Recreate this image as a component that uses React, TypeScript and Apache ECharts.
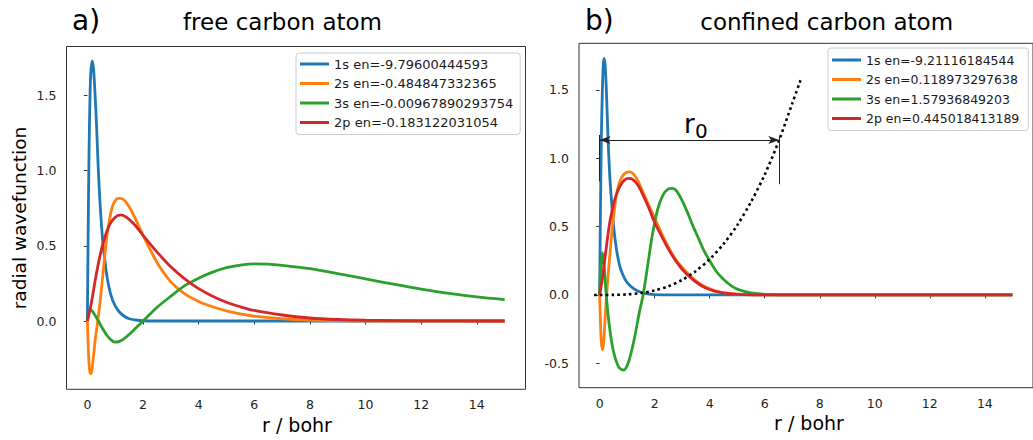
import React, { useEffect, useRef } from "react";
import * as echarts from "echarts";

type P = [number, number];

const FONT = "'DejaVu Sans', sans-serif";
const COLORS = ["#1f77b4", "#ff7f0e", "#2ca02c", "#d62728"];

// ---- tick values ----
const xTicks = [0, 2, 4, 6, 8, 10, 12, 14];
const yTicksA = [0, 0.5, 1.0, 1.5];
const yTicksB = [-0.5, 0, 0.5, 1.0, 1.5];

// ---- legend names ----
const namesA = [
  "1s en=-9.79600444593",
  "2s en=-0.484847332365",
  "3s en=-0.00967890293754",
  "2p en=-0.183122031054",
];
const namesB = [
  "1s en=-9.21116184544",
  "2s en=0.118973297638",
  "3s en=1.57936849203",
  "2p en=0.445018413189",
];

// ---- panel a: free carbon atom ----
const a1s: P[] = [
  [0, 0], [0.03, 0.62], [0.06, 1.12], [0.09, 1.45], [0.12, 1.64], [0.17, 1.73], [0.22, 1.68],
  [0.27, 1.53], [0.33, 1.3], [0.39, 1.02], [0.45, 0.8], [0.51, 0.63], [0.57, 0.5], [0.65, 0.37],
  [0.72, 0.28], [0.85, 0.17], [1.0, 0.1], [1.15, 0.06], [1.3, 0.035], [1.5, 0.015], [1.8, 0.005],
  [2.2, 0], [3, 0], [15, 0],
];
const a2s: P[] = [
  [0, 0], [0.03, -0.16], [0.06, -0.28], [0.09, -0.34], [0.12, -0.35], [0.16, -0.33], [0.2, -0.27],
  [0.25, -0.18], [0.3, -0.1], [0.36, -0.02], [0.42, 0.07], [0.5, 0.2], [0.6, 0.39], [0.7, 0.56],
  [0.8, 0.68], [0.9, 0.76], [1.0, 0.8], [1.1, 0.815], [1.2, 0.815], [1.35, 0.8], [1.5, 0.76],
  [1.7, 0.69], [2.0, 0.57], [2.3, 0.46], [2.6, 0.36], [3.0, 0.26], [3.5, 0.18], [4.0, 0.13],
  [4.5, 0.095], [5.0, 0.068], [5.5, 0.048], [6.0, 0.033], [7.0, 0.015], [8.0, 0.006], [9.0, 0.002],
  [10, 0], [15, 0],
];
const a3s: P[] = [
  [0, 0], [0.05, 0.05], [0.12, 0.075], [0.2, 0.06], [0.3, 0.03], [0.4, 0.0], [0.5, -0.035],
  [0.7, -0.095], [0.85, -0.125], [1.0, -0.14], [1.15, -0.135], [1.3, -0.12], [1.5, -0.09],
  [1.75, -0.045], [2.0, 0.0], [2.5, 0.09], [3.0, 0.165], [3.5, 0.235], [4.0, 0.285], [4.5, 0.325],
  [5.0, 0.355], [5.5, 0.372], [6.0, 0.38], [6.5, 0.378], [7.0, 0.37], [8.0, 0.348], [9.0, 0.315],
  [10.0, 0.28], [11.0, 0.245], [12.0, 0.212], [13.0, 0.183], [14.0, 0.16], [15.0, 0.142],
];
const a2p: P[] = [
  [0, 0], [0.1, 0.08], [0.2, 0.18], [0.3, 0.29], [0.45, 0.43], [0.6, 0.54], [0.8, 0.64], [1.0, 0.69],
  [1.2, 0.705], [1.4, 0.69], [1.7, 0.64], [2.0, 0.57], [2.5, 0.46], [3.0, 0.36], [3.5, 0.28],
  [4.0, 0.215], [4.5, 0.165], [5.0, 0.125], [5.5, 0.095], [6.0, 0.07], [7.0, 0.04], [8.0, 0.02],
  [9.0, 0.01], [10.0, 0.005], [12.0, 0.001], [15.0, 0],
];

// ---- panel b: confined carbon atom ----
const b1s: P[] = [
  [0, 0], [0.03, 0.62], [0.06, 1.12], [0.1, 1.5], [0.155, 1.73], [0.2, 1.68], [0.25, 1.47],
  [0.3, 1.17], [0.36, 0.9], [0.42, 0.72], [0.5, 0.52], [0.6, 0.35], [0.72, 0.22], [0.84, 0.15],
  [1.0, 0.09], [1.25, 0.045], [1.5, 0.02], [1.8, 0.006], [2.2, 0], [3, 0], [15, 0],
];
const b2s: P[] = [
  [0, 0], [0.03, -0.2], [0.06, -0.34], [0.1, -0.4], [0.14, -0.36], [0.18, -0.24], [0.22, -0.1],
  [0.26, 0.02], [0.32, 0.17], [0.42, 0.4], [0.5, 0.56], [0.6, 0.72], [0.7, 0.81], [0.8, 0.86],
  [0.95, 0.895], [1.1, 0.9], [1.25, 0.88], [1.4, 0.83], [1.6, 0.74], [1.8, 0.65], [2.03, 0.55],
  [2.25, 0.45], [2.5, 0.35], [2.8, 0.25], [3.1, 0.18], [3.4, 0.12], [3.7, 0.075], [4.0, 0.045],
  [4.3, 0.025], [4.7, 0.012], [5.2, 0.004], [6, 0], [15, 0],
];
const b3s: P[] = [
  [0, 0], [0.04, 0.2], [0.1, 0.31], [0.16, 0.22], [0.24, 0.0], [0.35, -0.22], [0.5, -0.41],
  [0.7, -0.53], [0.87, -0.55], [1.05, -0.49], [1.25, -0.33], [1.45, -0.12], [1.58, 0.0],
  [1.75, 0.22], [1.9, 0.42], [2.1, 0.62], [2.3, 0.73], [2.5, 0.775], [2.65, 0.78], [2.8, 0.76],
  [3.0, 0.69], [3.2, 0.6], [3.4, 0.5], [3.6, 0.41], [3.8, 0.32], [4.0, 0.25], [4.25, 0.17],
  [4.5, 0.115], [4.8, 0.065], [5.1, 0.035], [5.5, 0.015], [6, 0.005], [7, 0], [15, 0],
];
const b2p: P[] = [
  [0, 0], [0.1, 0.12], [0.2, 0.28], [0.36, 0.52], [0.5, 0.66], [0.6, 0.73], [0.75, 0.8],
  [0.9, 0.84], [1.05, 0.853], [1.2, 0.845], [1.4, 0.8], [1.6, 0.72], [1.8, 0.63], [2.0, 0.53],
  [2.25, 0.43], [2.5, 0.335], [2.8, 0.24], [3.1, 0.165], [3.4, 0.11], [3.7, 0.068], [4.0, 0.04],
  [4.3, 0.022], [4.7, 0.01], [5.2, 0.003], [6, 0], [15, 0],
];
// confining potential (dotted)
const bPot: P[] = [
  [-0.2, 0], [0, 0], [0.5, 0.0005], [1.0, 0.004], [1.5, 0.014], [2.0, 0.033], [2.5, 0.064],
  [3.0, 0.11], [3.5, 0.175], [4.0, 0.262], [4.5, 0.372], [5.0, 0.51], [5.5, 0.68], [6.0, 0.88],
  [6.5, 1.12], [7.0, 1.4], [7.3, 1.57],
];
// r0 annotation (data coords)
const r0Start = 0;
const r0End = 6.53;
const r0Y = 1.133;

const seriesA = [a1s, a2s, a3s, a2p];
const seriesB = [b1s, b2s, b3s, b2p];

function axisCommon(ticks: number[], fmt: (v: number) => string, margin: number) {
  return {
    axisLine: { show: false },
    splitLine: { show: false },
    axisTick: {
      show: true,
      inside: false,
      length: 3.5,
      lineStyle: { color: "#333", width: 1 },
      customValues: ticks,
    },
    axisLabel: {
      show: true,
      customValues: ticks,
      formatter: fmt,
      color: "#222",
      fontSize: 12.5,
      fontFamily: FONT,
      margin,
    },
  };
}

const fmtX = (v: number) => String(Math.round(v));
const fmtY = (v: number) => v.toFixed(1);

function legendCfg(names: string[], left: number, top: number, fontSize: number, padding: number[]) {
  return {
    data: names,
    orient: "vertical",
    left,
    top,
    icon: "rect",
    itemWidth: 29,
    itemHeight: 3,
    itemGap: 5.5,
    padding,
    borderColor: "#cccccc",
    borderWidth: 1,
    borderRadius: 3,
    backgroundColor: "rgba(255,255,255,0.8)",
    selectedMode: false,
    textStyle: { fontFamily: FONT, fontSize, color: "#1a1a1a", lineHeight: 14 },
  };
}

function lineSeries(name: string, data: P[], color: string, idx: number) {
  return {
    name,
    type: "line",
    xAxisIndex: idx,
    yAxisIndex: idx,
    data,
    showSymbol: false,
    symbol: "none",
    smooth: 0.3,
    silent: true,
    color,
    lineStyle: { color, width: 2.8 },
  };
}

const option: any = {
  animation: false,
  backgroundColor: "#ffffff",
  textStyle: { fontFamily: FONT },
  grid: [
    { left: 66.5, top: 46.5, width: 459, height: 342.8, show: true, borderColor: "#333", borderWidth: 1, backgroundColor: "transparent" },
    { left: 579, top: 43.3, width: 460.5, height: 344.4, show: true, borderColor: "#333", borderWidth: 1, backgroundColor: "transparent" },
  ],
  xAxis: [
    { type: "value", gridIndex: 0, min: -0.75, max: 15.75, ...axisCommon(xTicks, fmtX, 9) },
    { type: "value", gridIndex: 1, min: -0.75, max: 15.75, ...axisCommon(xTicks, fmtX, 9) },
  ],
  yAxis: [
    { type: "value", gridIndex: 0, min: -0.454, max: 1.825, ...axisCommon(yTicksA, fmtY, 10) },
    { type: "value", gridIndex: 1, min: -0.678, max: 1.84, ...axisCommon(yTicksB, fmtY, 10) },
  ],
  legend: [
    legendCfg(namesA, 296, 53, 13, [4, 7, 5, 4]),
    legendCfg(namesB, 828, 48, 12.5, [5, 9, 5, 4]),
  ],
  series: [
    ...seriesA.map((d, i) => lineSeries(namesA[i], d, COLORS[i], 0)),
    ...seriesB.map((d, i) => lineSeries(namesB[i], d, COLORS[i], 1)),
    {
      name: "potential",
      type: "line",
      xAxisIndex: 1,
      yAxisIndex: 1,
      data: bPot,
      showSymbol: false,
      symbol: "none",
      smooth: 0.3,
      silent: true,
      lineStyle: { color: "#000", width: 2.6, type: [2.6, 3.2], cap: "butt" },
      markLine: {
        silent: true,
        symbol: ["none", "none"],
        label: { show: false },
        lineStyle: { color: "#222", width: 1, type: "solid" },
        data: [
          [{ coord: [-0.03, 1.17] }, { coord: [-0.03, 0.83] }],
          [{ coord: [r0End, 1.16] }, { coord: [r0End, 0.81] }],
          [
            { coord: [r0Start, r0Y], symbol: "arrow", symbolSize: [6, 11] },
            { coord: [r0End, r0Y], symbol: "arrow", symbolSize: [6, 11] },
          ],
        ],
      },
    },
  ],
  graphic: [
    { type: "text", left: 72, top: 6, style: { text: "a)", font: `28px ${FONT}`, fill: "#000" } },
    { type: "text", x: 282.5, y: 22.4, style: { text: "free carbon atom", font: `23px ${FONT}`, fill: "#000", align: "center", verticalAlign: "middle" } },
    { type: "text", left: 585, top: 6, style: { text: "b)", font: `28px ${FONT}`, fill: "#000" } },
    { type: "text", x: 826.7, y: 22.4, style: { text: "confined carbon atom", font: `23px ${FONT}`, fill: "#000", align: "center", verticalAlign: "middle" } },
    { type: "text", x: 297, y: 425, style: { text: "r / bohr", font: `19px ${FONT}`, fill: "#000", align: "center", verticalAlign: "middle" } },
    { type: "text", x: 809, y: 423, style: { text: "r / bohr", font: `19px ${FONT}`, fill: "#000", align: "center", verticalAlign: "middle" } },
    { type: "text", x: 19, y: 218, rotation: Math.PI / 2, style: { text: "radial wavefunction", font: `18.5px ${FONT}`, fill: "#000", align: "center", verticalAlign: "middle" } },
    { type: "text", x: 684, y: 124, style: { text: "r", font: `26px ${FONT}`, fill: "#000", align: "left", verticalAlign: "middle" } },
    { type: "text", x: 695, y: 131, style: { text: "0", font: `20px ${FONT}`, fill: "#000", align: "left", verticalAlign: "middle" } },
  ],
};

export default function App() {
  const ref = useRef<HTMLDivElement>(null);
  useEffect(() => {
    if (!ref.current) return;
    const chart = echarts.init(ref.current, undefined, { renderer: "svg" });
    chart.setOption(option);
    return () => {
      chart.dispose();
    };
  }, []);
  return (
    <div
      ref={ref}
      style={{ position: "absolute", left: 0, top: 0, width: 1033, height: 440, background: "#fff" }}
    />
  );
}
